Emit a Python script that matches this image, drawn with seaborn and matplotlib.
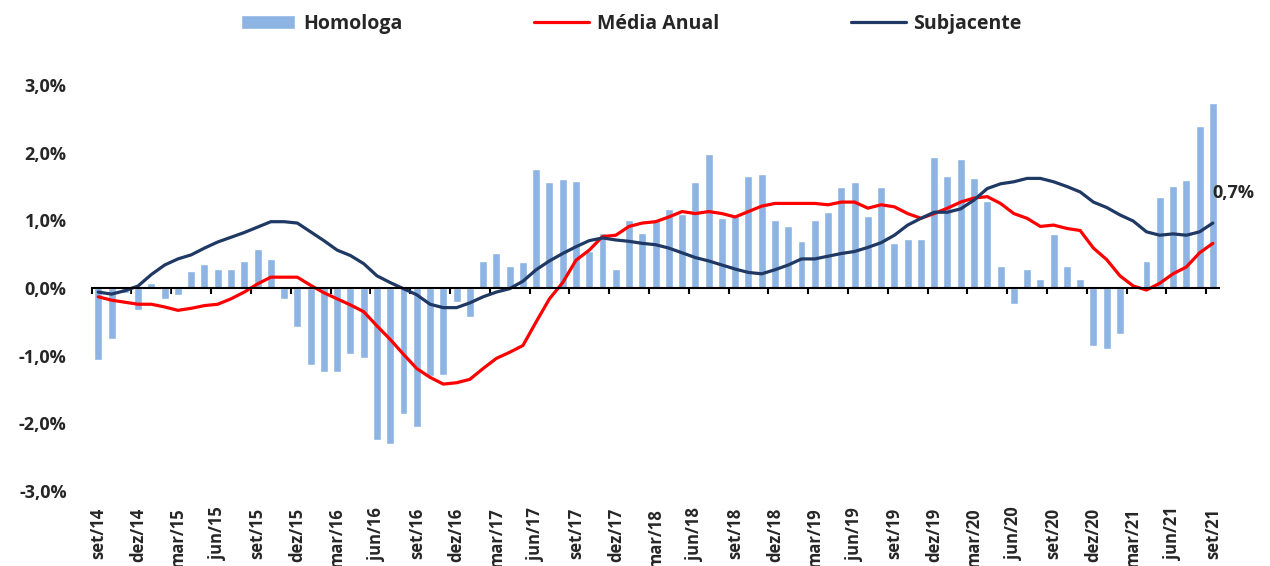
import pandas as pd
import numpy as np
import matplotlib
matplotlib.use('Agg')
import matplotlib.pyplot as plt
import seaborn as sns

# valores (set/14 a set/21)
homologa = [-1.07, -0.75, -0.07, -0.33,
            0.08, -0.16, -0.11, 0.25, 0.36, 0.28, 0.28, 0.40, 0.57, 0.43, -0.16, -0.57,
            -1.14, -1.24, -1.24, -0.97, -1.04, -2.25, -2.30, -1.86, -2.06, -1.30, -1.29, -0.21,
            -0.43, 0.40, 0.52, 0.33, 0.38, 1.76, 1.56, 1.61, 1.58, 0.55, 0.82, 0.28,
            1.01, 0.82, 1.01, 1.17, 1.09, 1.56, 1.98, 1.04, 1.07, 1.66, 1.69, 1.00,
            0.92, 0.70, 1.00, 1.12, 1.49, 1.56, 1.07, 1.49, 0.67, 0.72, 0.72, 1.93,
            1.66, 1.91, 1.63, 1.29, 0.33, -0.23, 0.28, 0.13, 0.80, 0.33, 0.13, -0.85,
            -0.90, -0.68, -0.02, 0.40, 1.34, 1.51, 1.59, 2.40, 2.73]
media_anual = [-0.13, -0.18, -0.21, -0.24,
               -0.24, -0.28, -0.33, -0.30, -0.26, -0.24, -0.16, -0.06, 0.06, 0.16, 0.16, 0.16,
               0.04, -0.07, -0.16, -0.25, -0.35, -0.56, -0.76, -0.98, -1.19, -1.32, -1.42, -1.40,
               -1.35, -1.19, -1.04, -0.95, -0.85, -0.50, -0.16, 0.08, 0.41, 0.56, 0.76, 0.78,
               0.91, 0.96, 0.98, 1.05, 1.13, 1.10, 1.13, 1.10, 1.05, 1.13, 1.21, 1.25,
               1.25, 1.25, 1.25, 1.23, 1.27, 1.27, 1.18, 1.23, 1.20, 1.10, 1.03, 1.10,
               1.18, 1.27, 1.33, 1.35, 1.25, 1.10, 1.03, 0.91, 0.93, 0.88, 0.85, 0.59,
               0.42, 0.18, 0.03, -0.03, 0.07, 0.21, 0.31, 0.52, 0.66]
subjacente = [-0.06, -0.09, -0.04, 0.03,
              0.20, 0.34, 0.43, 0.49, 0.59, 0.68, 0.75, 0.82, 0.90, 0.98, 0.98, 0.96,
              0.83, 0.70, 0.56, 0.48, 0.36, 0.18, 0.08, -0.01, -0.10, -0.24, -0.29, -0.29,
              -0.22, -0.13, -0.06, -0.01, 0.10, 0.27, 0.40, 0.51, 0.61, 0.70, 0.74, 0.71,
              0.69, 0.66, 0.64, 0.59, 0.52, 0.45, 0.40, 0.34, 0.28, 0.23, 0.21, 0.27,
              0.34, 0.43, 0.43, 0.47, 0.51, 0.54, 0.60, 0.67, 0.78, 0.93, 1.03, 1.12,
              1.12, 1.17, 1.30, 1.47, 1.54, 1.57, 1.62, 1.62, 1.57, 1.50, 1.42, 1.27,
              1.19, 1.08, 0.99, 0.83, 0.78, 0.80, 0.78, 0.83, 0.96]
rotulos_x = ['set/14', 'dez/14', 'mar/15', 'jun/15', 'set/15', 'dez/15', 'mar/16', 'jun/16',
             'set/16', 'dez/16', 'mar/17', 'jun/17', 'set/17', 'dez/17', 'mar/18', 'jun/18',
             'set/18', 'dez/18', 'mar/19', 'jun/19', 'set/19', 'dez/19', 'mar/20', 'jun/20',
             'set/20', 'dez/20', 'mar/21', 'jun/21', 'set/21']
rotulos_y = ['-3,0%', '-2,0%', '-1,0%', '0,0%', '1,0%', '2,0%', '3,0%']
anotacao = '0,7%'

df = pd.DataFrame({'pos': np.arange(len(homologa)), 'Homologa': homologa,
                   'Média Anual': media_anual, 'Subjacente': subjacente})

sns.set_style('white')
plt.rcParams['font.family'] = ['Open Sans', 'DejaVu Sans']
plt.rcParams['font.weight'] = 'bold'

fig = plt.figure(figsize=(12.7, 5.66), dpi=100)
ax = fig.add_axes([0.0722, 0.1325, 0.888, 0.7173])

sns.barplot(data=df, x='pos', y='Homologa', native_scale=True, width=0.6,
            color='#8DB4E2', saturation=1, ax=ax, label='Homologa')
sns.lineplot(data=df, x='pos', y='Média Anual', color='#FF0000', lw=2.3, ax=ax, label='Média Anual')
sns.lineplot(data=df, x='pos', y='Subjacente', color='#1F3864', lw=2.3, ax=ax, label='Subjacente')

ax.set_xlim(-0.5, len(homologa) - 0.5)
ax.set_ylim(-3, 3)
ax.set_xlabel('')
ax.set_ylabel('')

# eixo x no zero, marcas entre categorias a cada 3 meses
for s in ['top', 'right', 'left']:
    ax.spines[s].set_visible(False)
ax.spines['bottom'].set_position(('data', 0))
ax.spines['bottom'].set_linewidth(1.5)
ax.spines['bottom'].set_color('black')
ax.set_xticks(np.arange(-0.5, len(homologa) - 1, 3), labels=[])
ax.tick_params(axis='x', direction='out', length=4.5, width=1.5, color='black', bottom=True)

ax.set_yticks(np.arange(-3, 4), labels=rotulos_y)
ax.tick_params(axis='y', length=0, pad=18, labelsize=13)

sec = ax.secondary_xaxis('bottom')
sec.set_xticks(np.arange(0, len(homologa), 3), labels=rotulos_x, rotation=90, fontsize=12,
               fontweight='bold')
sec.tick_params(length=0, pad=12)
sec.spines['bottom'].set_visible(False)

ax.text(len(homologa) - 1, 1.40, anotacao, fontsize=13, fontweight='bold',
        ha='left', va='center')

if ax.legend_:
    ax.legend_.remove()
h, l = ax.get_legend_handles_labels()
order = [l.index('Homologa'), l.index('Média Anual'), l.index('Subjacente')]
fig.legend([h[i] for i in order], [l[i] for i in order], loc='center',
           bbox_to_anchor=(0.497, 0.958), ncol=3, frameon=False,
           prop={'size': 14, 'weight': 'bold'}, handlelength=2.8,
           handletextpad=0.4, columnspacing=6.8)

fig.savefig('out.png', dpi=100)
